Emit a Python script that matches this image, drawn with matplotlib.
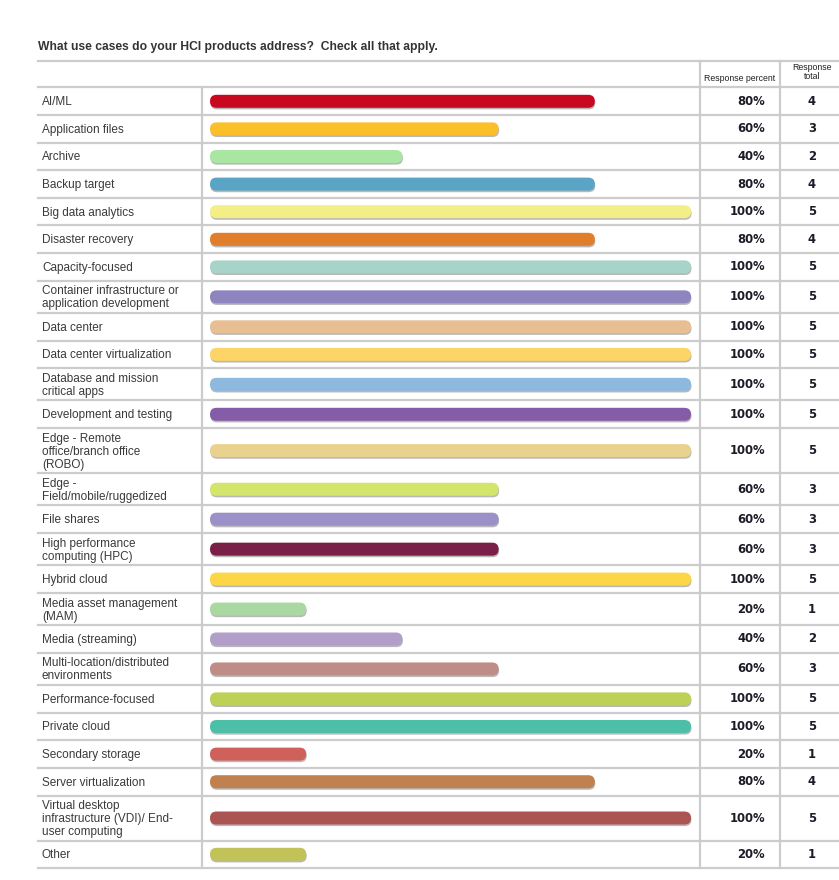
import numpy as np
import matplotlib
matplotlib.use('Agg')
import matplotlib.pyplot as plt
from matplotlib.patches import FancyBboxPatch

# %% data
labels = ['AI/ML', 'Application files', 'Archive', 'Backup target', 'Big data analytics',
          'Disaster recovery', 'Capacity-focused',
          'Container infrastructure or\napplication development',
          'Data center', 'Data center virtualization',
          'Database and mission\ncritical apps', 'Development and testing',
          'Edge - Remote\noffice/branch office\n(ROBO)',
          'Edge -\nField/mobile/ruggedized', 'File shares',
          'High performance\ncomputing (HPC)', 'Hybrid cloud',
          'Media asset management\n(MAM)', 'Media (streaming)',
          'Multi-location/distributed\nenvironments', 'Performance-focused',
          'Private cloud', 'Secondary storage', 'Server virtualization',
          'Virtual desktop\ninfrastructure (VDI)/ End-\nuser computing', 'Other']
percent = [80, 60, 40, 80, 100, 80, 100, 100, 100, 100, 100, 100, 100,
           60, 60, 60, 100, 20, 40, 60, 100, 100, 20, 80, 100, 20]
totals = [4, 3, 2, 4, 5, 4, 5, 5, 5, 5, 5, 5, 5, 3, 3, 3, 5, 1, 2, 3, 5, 5, 1, 4, 5, 1]
colors = ['#c8081f', '#fbbf2a', '#a9e6a2', '#5aa5c5', '#f4ee86', '#e07e2b',
          '#a7d3c9', '#8e84c0', '#e8bf93', '#fdd566', '#8db9df', '#855ca8',
          '#e8d28d', '#d4e56b', '#9b91c8', '#7a1f47', '#fdd645', '#a9d9a1',
          '#b19fc9', '#c08c88', '#bed157', '#4dbfa8', '#d0605a', '#c0814e',
          '#ac5353', '#c1c258']
title = 'What use cases do your HCI products address?  Check all that apply.'

# %% layout (pixel units)
W, H = 839, 880
left, right = 38, 839
col1, col2, col3 = 202, 700, 780
bar_x0, bar_full = 210, 481
header_top, header_bot = 61, 87.5
row_h = {1: 27.6, 2: 32.3, 3: 45}
bar_h = 13
line_c = '#cccccc'

fig = plt.figure(figsize=(W / 100, H / 100), dpi=100)
ax = fig.add_axes([0, 0, 1, 1])
ax.set_xlim(0, W)
ax.set_ylim(H, 0)
ax.axis('off')

ax.text(left, 47, title, fontsize=8.75, fontweight='bold', color='#333333',
        family='Liberation Sans', va='center', ha='left')

ax.text(740, 78.5, 'Response percent', fontsize=6.3, ha='center', va='center',
        family='Liberation Sans', color='#222222')
ax.text(812, 72, 'Response\ntotal', fontsize=6.3, ha='center', va='center',
        family='Liberation Sans', color='#222222', linespacing=1.0)

y = header_bot
ax.plot([left, right], [header_top, header_top], color=line_c, lw=1.6)
ax.plot([left, right], [y, y], color=line_c, lw=1.6)
for lab, p, t, c in zip(labels, percent, totals, colors):
    n = lab.count('\n') + 1
    h = row_h[n]
    yc = y + h / 2
    ax.text(42, yc + 1, lab, fontsize=8.5, ha='left', va='center', color='#3a3a3a',
            family='Liberation Sans', linespacing=1.12)
    w = bar_full * p / 100
    shadow = FancyBboxPatch((bar_x0 + 0.5, yc - bar_h / 2 + 1.6), w, bar_h,
                            boxstyle='round,pad=0,rounding_size=6.5',
                            fc='#8a8a8a', ec='none', alpha=0.6)
    ax.add_patch(shadow)
    bar = FancyBboxPatch((bar_x0, yc - bar_h / 2), w, bar_h,
                         boxstyle='round,pad=0,rounding_size=6.5',
                         fc=c, ec='none')
    ax.add_patch(bar)
    ax.text(765, yc, f'{p}%', fontsize=8.4, fontweight='bold', ha='right',
            va='center', family='DejaVu Sans', color='#1c1c28')
    ax.text(812, yc, str(t), fontsize=8.4, fontweight='bold', ha='center',
            va='center', family='DejaVu Sans', color='#1c1c28')
    y += h
    ax.plot([left, right], [y, y], color=line_c, lw=1.6)

ax.plot([col1, col1], [header_bot, y], color=line_c, lw=1.6)
ax.plot([col2, col2], [header_top, y], color=line_c, lw=1.6)
ax.plot([col3, col3], [header_top, y], color=line_c, lw=1.6)

plt.savefig('out.png', dpi=100)
